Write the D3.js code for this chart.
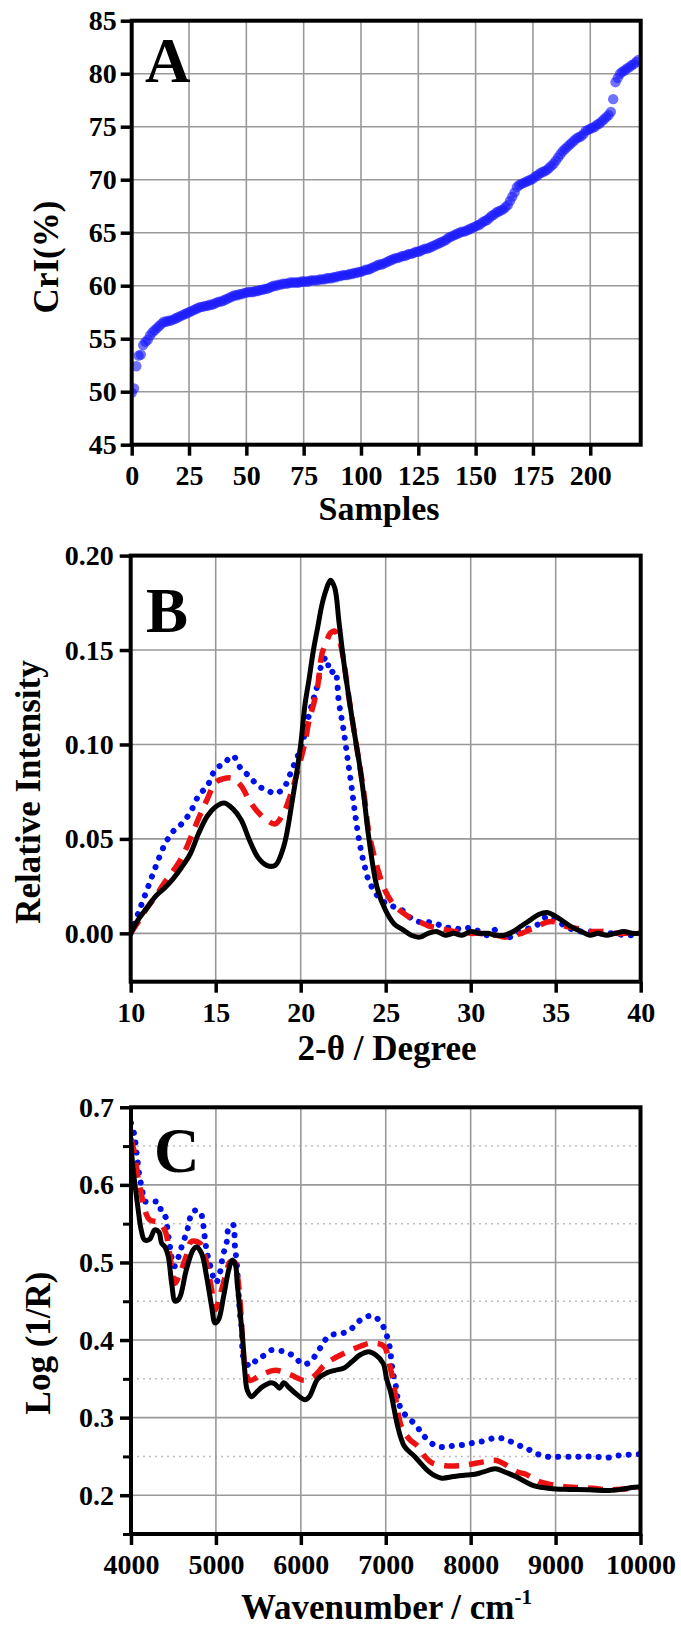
<!DOCTYPE html>
<html><head><meta charset="utf-8">
<script src="https://cdn.jsdelivr.net/npm/d3@7"></script>
<style>body{margin:0;background:#fff}svg{display:block}</style>
</head><body><svg id="chart" width="681" height="1627"></svg>
<script>
// ---------------- DATA ----------------
// Panel A: CrI (%) of each sample, sorted (x = sample index)
const aCrI = [
49.9,50.3,52.4,53.4,53.5,54.4,54.7,54.9,55.3,55.6,
55.8,56.0,56.2,56.4,56.6,56.6,56.7,56.7,56.8,56.9,
57.0,57.1,57.2,57.3,57.4,57.5,57.6,57.7,57.8,57.9,
58.0,58.0,58.1,58.1,58.2,58.2,58.3,58.4,58.5,58.5,
58.6,58.7,58.8,58.9,59.0,59.1,59.1,59.2,59.2,59.3,
59.35,59.4,59.4,59.4,59.5,59.5,59.6,59.6,59.7,59.7,
59.8,59.9,60.0,60.0,60.1,60.1,60.2,60.2,60.2,60.3,
60.3,60.3,60.3,60.3,60.4,60.4,60.4,60.4,60.5,60.5,
60.5,60.5,60.6,60.6,60.6,60.7,60.7,60.7,60.8,60.8,
60.9,60.9,61.0,61.0,61.0,61.1,61.1,61.2,61.2,61.3,
61.3,61.4,61.5,61.5,61.6,61.7,61.8,61.9,62.0,62.0,
62.1,62.2,62.3,62.4,62.5,62.6,62.6,62.7,62.8,62.8,
62.9,63.0,63.0,63.1,63.2,63.2,63.3,63.4,63.5,63.5,
63.6,63.7,63.8,63.9,64.0,64.1,64.2,64.3,64.5,64.6,
64.7,64.8,64.9,65.0,65.1,65.1,65.2,65.3,65.4,65.5,
65.6,65.7,65.8,66.0,66.1,66.2,66.4,66.6,66.7,66.9,
67.0,67.1,67.2,67.4,67.6,68.0,68.4,68.8,69.3,69.5,
69.6,69.7,69.8,69.9,70.0,70.1,70.3,70.4,70.6,70.7,
70.8,70.9,71.1,71.3,71.5,71.8,72.1,72.4,72.7,72.9,
73.1,73.3,73.5,73.7,73.9,74.0,74.1,74.3,74.6,74.7,
74.8,74.9,75.0,75.2,75.3,75.5,75.7,75.9,76.1,76.4,
77.6,79.2,79.6,80.0,80.2,80.3,80.5,80.6,80.8,80.9,81.1,81.3
];
const aXTicks = [0,25,50,75,100,125,150,175,200];
const aYTicks = [45,50,55,60,65,70,75,80,85];

// Panel B: XRD relative intensity vs 2-theta
const bTheta = [10,10.5,11,11.5,12,12.5,13,13.5,14,14.5,15,15.5,16,16.5,17,17.5,18,18.5,19,19.5,20,
20.25,20.5,20.75,21,21.25,21.5,21.75,22,22.25,22.5,22.75,23,23.25,23.5,23.75,24,
24.5,25,25.5,26,26.5,27,27.5,28,28.5,29,29.5,30,30.5,31,31.5,32,32.5,33,33.5,34,34.5,35,35.5,36,36.5,37,37.5,38,38.5,39,39.5,40];
const bBlack = [0.000,0.008,0.014,0.020,0.024,0.029,0.035,0.042,0.053,0.062,0.067,0.069,0.066,0.060,0.049,0.040,0.036,0.036,0.046,0.070,0.100,
0.121,0.135,0.150,0.162,0.174,0.182,0.187,0.183,0.165,0.146,0.130,0.115,0.101,0.087,0.070,0.051,
0.024,0.012,0.005,0.002,-0.001,-0.002,0.000,0.001,-0.001,0.000,-0.001,0.001,0.000,0.000,-0.001,-0.001,0.001,0.004,0.007,0.010,0.011,0.009,0.006,0.003,0.001,-0.001,0.000,-0.001,0.000,0.001,0.000,0.000];
const bRed = [0.000,0.007,0.014,0.020,0.027,0.033,0.040,0.050,0.061,0.071,0.080,0.082,0.082,0.078,0.070,0.064,0.060,0.058,0.064,0.076,0.092,
0.101,0.113,0.121,0.131,0.148,0.154,0.159,0.160,0.156,0.146,0.130,0.115,0.101,0.087,0.072,0.054,
0.035,0.022,0.015,0.011,0.008,0.006,0.004,0.003,0.002,0.001,0.001,0.000,0.000,-0.001,-0.001,-0.002,-0.001,0.000,0.002,0.004,0.006,0.006,0.004,0.003,0.002,0.001,0.001,0.001,0.000,0.000,0.000,0.000];
const bBlue = [0.000,0.012,0.024,0.036,0.047,0.054,0.058,0.064,0.073,0.078,0.087,0.090,0.094,0.087,0.083,0.078,0.076,0.074,0.077,0.087,0.098,
0.106,0.116,0.124,0.132,0.143,0.146,0.138,0.139,0.122,0.109,0.093,0.077,0.060,0.046,0.036,0.028,
0.020,0.016,0.014,0.012,0.008,0.006,0.006,0.005,0.003,0.003,0.002,0.003,0.001,-0.001,0.002,-0.003,-0.001,0.001,0.003,0.005,0.009,0.008,0.004,0.002,0.001,0.001,0.000,0.000,0.000,-0.001,-0.001,-0.002];
const bXTicks = [10,15,20,25,30,35,40];
const bYTicks = [0,0.05,0.10,0.15,0.20];

// Panel C: NIR spectra, [wavenumber, log(1/R)]
const cBlack = [[4000,0.655],[4020,0.625],[4040,0.606],[4080,0.572],[4120,0.542],[4160,0.529],[4220,0.530],[4280,0.542],[4330,0.539],[4360,0.525],[4400,0.520],[4440,0.507],[4480,0.472],[4520,0.450],[4570,0.454],[4650,0.490],[4730,0.516],[4770,0.520],[4830,0.512],[4890,0.482],[4950,0.443],[4990,0.422],[5030,0.426],[5090,0.456],[5150,0.490],[5190,0.503],[5230,0.497],[5250,0.474],[5290,0.430],[5320,0.395],[5340,0.360],[5370,0.335],[5420,0.327],[5480,0.333],[5550,0.340],[5650,0.345],[5700,0.343],[5750,0.338],[5800,0.345],[5850,0.340],[5950,0.330],[6050,0.323],[6100,0.327],[6200,0.350],[6310,0.358],[6400,0.361],[6510,0.364],[6600,0.372],[6700,0.381],[6800,0.385],[6880,0.381],[6970,0.370],[7010,0.350],[7060,0.332],[7100,0.310],[7140,0.289],[7220,0.263],[7340,0.250],[7420,0.240],[7500,0.231],[7580,0.225],[7660,0.222],[7800,0.224],[7950,0.226],[8050,0.227],[8150,0.230],[8290,0.234],[8400,0.230],[8530,0.224],[8650,0.217],[8750,0.212],[8850,0.210],[9000,0.208],[9160,0.2075],[9400,0.207],[9630,0.206],[9800,0.208],[9900,0.210],[10000,0.211]];
const cRed = [[4000,0.660],[4040,0.641],[4080,0.611],[4120,0.589],[4170,0.565],[4220,0.555],[4340,0.551],[4410,0.538],[4440,0.522],[4480,0.492],[4515,0.473],[4570,0.484],[4650,0.508],[4710,0.527],[4810,0.525],[4850,0.516],[4890,0.499],[4950,0.465],[4990,0.439],[5050,0.458],[5110,0.482],[5170,0.501],[5225,0.500],[5255,0.482],[5285,0.449],[5320,0.390],[5350,0.360],[5400,0.348],[5530,0.355],[5700,0.361],[5880,0.355],[6040,0.348],[6150,0.353],[6300,0.370],[6510,0.383],[6700,0.392],[6830,0.396],[6980,0.392],[7040,0.370],[7084,0.349],[7183,0.289],[7280,0.272],[7380,0.263],[7460,0.250],[7540,0.242],[7700,0.238],[7860,0.238],[8000,0.240],[8150,0.243],[8290,0.245],[8400,0.240],[8550,0.230],[8650,0.227],[8800,0.218],[9040,0.212],[9250,0.210],[9440,0.209],[9600,0.207],[9800,0.208],[10000,0.210]];
const cBlue = [[4000,0.680],[4040,0.664],[4060,0.646],[4080,0.629],[4100,0.611],[4130,0.595],[4160,0.579],[4240,0.579],[4330,0.577],[4360,0.563],[4410,0.558],[4430,0.541],[4455,0.524],[4475,0.508],[4515,0.495],[4565,0.509],[4610,0.525],[4660,0.540],[4685,0.553],[4730,0.566],[4810,0.566],[4850,0.549],[4870,0.531],[4890,0.516],[4930,0.497],[5000,0.474],[5050,0.488],[5080,0.508],[5125,0.525],[5145,0.542],[5200,0.549],[5225,0.519],[5245,0.500],[5265,0.463],[5285,0.432],[5305,0.413],[5320,0.379],[5350,0.372],[5400,0.366],[5500,0.377],[5550,0.379],[5650,0.387],[5760,0.386],[5840,0.384],[5940,0.377],[6015,0.369],[6100,0.371],[6230,0.390],[6330,0.405],[6550,0.411],[6730,0.428],[6850,0.431],[6945,0.422],[7005,0.408],[7045,0.392],[7065,0.375],[7085,0.358],[7120,0.340],[7145,0.323],[7185,0.310],[7260,0.300],[7360,0.290],[7420,0.280],[7480,0.273],[7580,0.264],[7700,0.262],[7810,0.264],[7930,0.265],[8050,0.268],[8170,0.270],[8290,0.274],[8410,0.272],[8550,0.265],[8665,0.260],[8765,0.254],[8880,0.250],[9000,0.2495],[9200,0.2495],[9400,0.250],[9630,0.2486],[9730,0.251],[9820,0.252],[9900,0.2525],[10000,0.253]];
const cXTicks = [4000,5000,6000,7000,8000,9000,10000];
const cYTicks = [0.2,0.3,0.4,0.5,0.6,0.7];
const cYMinor = [0.15,0.25,0.35,0.45,0.55,0.65];

// ---------------- DRAWING ----------------
const FONT = "'Liberation Serif','Times New Roman',serif";
const svg = d3.select("#chart");
svg.append("rect").attr("width",681).attr("height",1627).attr("fill","#fff");

function frame(L,R,T,B,x,y,o){
  const g = svg.append("g");
  const id = "clip"+o.id;
  svg.append("clipPath").attr("id",id).append("rect")
    .attr("x",L).attr("y",T).attr("width",R-L).attr("height",B-T);
  if(o.yMinor){
    g.selectAll(".mg").data(o.yMinor.filter(v=>y(v)>T+2&&y(v)<B-2)).join("line")
      .attr("x1",L).attr("x2",R).attr("y1",d=>y(d)).attr("y2",d=>y(d))
      .attr("stroke","#bdbdbd").attr("stroke-width",1.5).attr("stroke-dasharray","2,4");
  }
  g.selectAll(".gx").data(o.xTicks.filter(v=>x(v)>L+2&&x(v)<R-2)).join("line")
    .attr("x1",d=>x(d)).attr("x2",d=>x(d)).attr("y1",T).attr("y2",B)
    .attr("stroke","#999").attr("stroke-width",1.6);
  g.selectAll(".gy").data(o.yTicks.filter(v=>y(v)>T+2&&y(v)<B-2)).join("line")
    .attr("x1",L).attr("x2",R).attr("y1",d=>y(d)).attr("y2",d=>y(d))
    .attr("stroke","#999").attr("stroke-width",1.6);
  return "url(#"+id+")";
}
function axes(L,R,T,B,x,y,o){
  const ax = svg.append("g").attr("transform",`translate(0,${B})`)
    .call(d3.axisBottom(x).tickValues(o.xTicks).tickSize(11).tickPadding(9).tickFormat(o.xFmt));
  const ay = svg.append("g").attr("transform",`translate(${L},0)`)
    .call(d3.axisLeft(y).tickValues(o.yTicks).tickSize(11).tickPadding(o.yPad||6).tickFormat(o.yFmt));
  [ax,ay].forEach(a=>{
    a.select(".domain").remove();
    a.selectAll(".tick line").attr("stroke","#000").attr("stroke-width",3.5);
    a.selectAll(".tick text").attr("fill","#000").style("font-family",FONT)
      .style("font-weight","bold").style("font-size","28px");
  });
  if(o.yMinor){
    const am = svg.append("g").attr("transform",`translate(${L},0)`)
      .call(d3.axisLeft(y).tickValues(o.yMinor).tickSize(8).tickFormat(""));
    am.select(".domain").remove();
    am.selectAll(".tick line").attr("stroke","#000").attr("stroke-width",3);
  }
  svg.append("rect").attr("x",L).attr("y",T).attr("width",R-L).attr("height",B-T)
    .attr("fill","none").attr("stroke","#000").attr("stroke-width",4);
}
function txt(x,y,s,size,rot,anchor){
  return svg.append("text").attr("transform",`translate(${x},${y})`+(rot?" rotate(-90)":""))
    .attr("text-anchor",anchor||"middle").style("font-family",FONT).style("font-weight","bold")
    .style("font-size",size+"px").attr("fill","#000").text(s);
}

// ---- Panel A ----
{
  const L=131.7,R=640.7,T=20.7,B=444.7;
  const x=d3.scaleLinear().domain([0,222]).range([L,R]);
  const y=d3.scaleLinear().domain([45,85]).range([B,T]);
  const o={id:"A",xTicks:aXTicks,yTicks:aYTicks,xFmt:d3.format("d"),yFmt:d3.format("d"),yPad:4};
  const clip=frame(L,R,T,B,x,y,o);
  svg.append("g").attr("clip-path",clip).selectAll("circle").data(aCrI).join("circle")
    .attr("cx",(d,i)=>x(i)).attr("cy",d=>y(d)).attr("r",5.2)
    .attr("fill","#1a1aff").attr("fill-opacity",0.62);
  axes(L,R,T,B,x,y,o);
  txt(145,82,"A",63,false,"start");
  txt(379,520,"Samples",34);
  txt(58,257,"CrI(%)",35,true);
}

// ---- Panel B ----
{
  const L=130.7,R=640.7,T=555.6,B=981.7;
  const x=d3.scaleLinear().domain([10,40]).range([L,R]);
  const y=d3.scaleLinear().domain([-0.0256,0.20]).range([B,T]);
  const o={id:"B",xTicks:bXTicks,yTicks:bYTicks,xFmt:d3.format("d"),yFmt:d3.format(".2f")};
  const clip=frame(L,R,T,B,x,y,o);
  const g=svg.append("g").attr("clip-path",clip);
  const line=d3.line().x((d,i)=>x(bTheta[i])).y(d=>y(d)).curve(d3.curveCatmullRom.alpha(0.5));
  g.append("path").attr("d",line(bBlue)).attr("fill","none").attr("stroke","#0010e8")
    .attr("stroke-width",6).attr("stroke-linecap","round").attr("stroke-dasharray","0.1,10");
  g.append("path").attr("d",line(bRed)).attr("fill","none").attr("stroke","#ee1111")
    .attr("stroke-width",5.5).attr("stroke-dasharray","15,10");
  g.append("path").attr("d",line(bBlack)).attr("fill","none").attr("stroke","#000")
    .attr("stroke-width",5).attr("stroke-linejoin","round");
  axes(L,R,T,B,x,y,o);
  txt(146,631.7,"B",63,false,"start");
  txt(387,1060,"2-θ / Degree",35);
  txt(39.5,792,"Relative Intensity",35,true);
}

// ---- Panel C ----
{
  const L=131,R=640.5,T=1107.3,B=1534;
  const x=d3.scaleLinear().domain([4000,10000]).range([L,R]);
  const y=d3.scaleLinear().domain([0.15,0.7]).range([B,T]);
  const o={id:"C",xTicks:cXTicks,yTicks:cYTicks,yMinor:cYMinor,xFmt:d3.format("d"),yFmt:d3.format(".1f")};
  const clip=frame(L,R,T,B,x,y,o);
  const g=svg.append("g").attr("clip-path",clip);
  const line=d3.line().x(d=>x(d[0])).y(d=>y(d[1])).curve(d3.curveCatmullRom.alpha(0.5));
  g.append("path").attr("d",line(cBlue)).attr("fill","none").attr("stroke","#0010e8")
    .attr("stroke-width",6).attr("stroke-linecap","round").attr("stroke-dasharray","0.1,10");
  g.append("path").attr("d",line(cRed)).attr("fill","none").attr("stroke","#ee1111")
    .attr("stroke-width",5.5).attr("stroke-dasharray","15,10");
  g.append("path").attr("d",line(cBlack)).attr("fill","none").attr("stroke","#000")
    .attr("stroke-width",5).attr("stroke-linejoin","round");
  axes(L,R,T,B,x,y,o);
  txt(154,1172,"C",63,false,"start");
  const t=txt(386.5,1619,"",35);
  t.append("tspan").text("Wavenumber / cm");
  t.append("tspan").attr("dy",-15).style("font-size","21px").text("-1");
  txt(50,1343,"Log (1/R)",35,true);
}
</script></body></html>
